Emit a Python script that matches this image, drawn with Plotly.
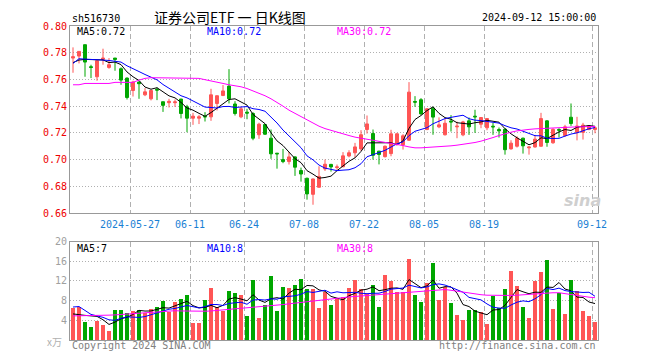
import math
import pandas as pd
import plotly.graph_objects as go

# ---------------- data ----------------
dates = [d.strftime("%Y-%m-%d") for d in pd.bdate_range("2024-05-13", "2024-09-12")
         if d.strftime("%Y-%m-%d") != "2024-06-10"]

open_ = [0.776, 0.7775, 0.786, 0.7695, 0.762, 0.775, 0.769, 0.776, 0.768, 0.761,
         0.7517, 0.758, 0.7485, 0.7455, 0.7525, 0.7433, 0.7426, 0.7426, 0.7453, 0.7395,
         0.731, 0.731, 0.7325, 0.732, 0.742, 0.748, 0.755, 0.7416, 0.732, 0.7355,
         0.7345, 0.7186, 0.7262, 0.716, 0.7048, 0.700, 0.6985, 0.702, 0.6918, 0.686,
         0.674, 0.6793, 0.693, 0.6964, 0.694, 0.6946, 0.7027, 0.7051, 0.708, 0.7225,
         0.7195, 0.7063, 0.7022, 0.7045, 0.7115, 0.711, 0.7145, 0.7435, 0.7448, 0.7225,
         0.7385, 0.7245, 0.7186, 0.7288, 0.7245, 0.7185, 0.729, 0.7325, 0.7265, 0.7238,
         0.725, 0.7225, 0.7227, 0.708, 0.710, 0.716, 0.7088, 0.7094, 0.710, 0.729,
         0.7126, 0.7225, 0.718, 0.7317, 0.7202, 0.7204, 0.7225, 0.7225]
high = [0.784, 0.781, 0.786, 0.771, 0.774, 0.783, 0.776, 0.776, 0.769, 0.7615,
        0.759, 0.7585, 0.7535, 0.7525, 0.754, 0.7433, 0.7455, 0.745, 0.7455, 0.741,
        0.735, 0.7333, 0.7355, 0.753, 0.748, 0.7558, 0.7677, 0.7437, 0.7395, 0.738,
        0.7355, 0.7276, 0.7265, 0.7225, 0.7048, 0.708, 0.7057, 0.7025, 0.694, 0.6865,
        0.6858, 0.695, 0.700, 0.6968, 0.6963, 0.7056, 0.707, 0.7125, 0.722, 0.733,
        0.7225, 0.7066, 0.7105, 0.7223, 0.720, 0.719, 0.758, 0.7475, 0.746, 0.7385,
        0.7395, 0.7316, 0.731, 0.7333, 0.7284, 0.729, 0.7315, 0.7373, 0.7318, 0.731,
        0.7275, 0.724, 0.7235, 0.7145, 0.7175, 0.7165, 0.7099, 0.7185, 0.735, 0.7295,
        0.7235, 0.7235, 0.726, 0.742, 0.732, 0.7275, 0.7258, 0.725]
low = [0.765, 0.772, 0.762, 0.761, 0.759, 0.771, 0.768, 0.7665, 0.756, 0.745,
       0.7472, 0.7455, 0.7475, 0.7443, 0.7445, 0.7357, 0.739, 0.7394, 0.7308, 0.7205,
       0.726, 0.7266, 0.7285, 0.729, 0.7368, 0.7475, 0.742, 0.733, 0.731, 0.7302,
       0.7145, 0.7155, 0.7185, 0.7006, 0.6932, 0.6973, 0.6963, 0.6878, 0.6835, 0.670,
       0.6662, 0.679, 0.6915, 0.691, 0.6924, 0.6944, 0.7017, 0.7015, 0.7065, 0.7195,
       0.700, 0.6964, 0.7015, 0.7025, 0.7105, 0.7075, 0.714, 0.7395, 0.7335, 0.722,
       0.7186, 0.7235, 0.718, 0.721, 0.716, 0.7175, 0.7185, 0.720, 0.7235, 0.722,
       0.7185, 0.7165, 0.7037, 0.7075, 0.709, 0.7045, 0.7037, 0.709, 0.7095, 0.7096,
       0.7118, 0.7165, 0.717, 0.7252, 0.7144, 0.715, 0.722, 0.7197]
close = [0.777, 0.781, 0.773, 0.769, 0.774, 0.776, 0.771, 0.775, 0.7595, 0.7465,
         0.758, 0.7568, 0.7507, 0.7517, 0.752, 0.7406, 0.7436, 0.7432, 0.7345, 0.731,
         0.7325, 0.732, 0.732, 0.7485, 0.7478, 0.7514, 0.7455, 0.7345, 0.738, 0.7348,
         0.716, 0.7265, 0.719, 0.7043, 0.7043, 0.6985, 0.702, 0.6943, 0.6892, 0.6743,
         0.6855, 0.6874, 0.6965, 0.6945, 0.6945, 0.7028, 0.7051, 0.7095, 0.7186, 0.7267,
         0.7032, 0.7038, 0.710, 0.7193, 0.7193, 0.7178, 0.7505, 0.743, 0.7342, 0.738,
         0.7318, 0.726, 0.7272, 0.7282, 0.725, 0.7282, 0.7245, 0.732, 0.7315, 0.7307,
         0.7245, 0.7215, 0.7074, 0.7123, 0.716, 0.7103, 0.7094, 0.7153, 0.7307, 0.7128,
         0.7226, 0.722, 0.7245, 0.727, 0.7251, 0.7258, 0.7252, 0.7238]

ma5 = [0.7726, 0.7745, 0.775, 0.7748, 0.7748, 0.7746, 0.7726, 0.773, 0.7711, 0.7656,
       0.762, 0.7592, 0.7543, 0.7527, 0.7538, 0.7504, 0.7477, 0.7462, 0.7428, 0.7386,
       0.737, 0.7346, 0.7324, 0.7352, 0.7386, 0.7423, 0.745, 0.7455, 0.7434, 0.7408,
       0.7338, 0.730, 0.7269, 0.7201, 0.714, 0.7105, 0.7056, 0.7007, 0.6977, 0.6917,
       0.6891, 0.6861, 0.6866, 0.6876, 0.6917, 0.6951, 0.6987, 0.7013, 0.7061, 0.7125,
       0.7126, 0.7124, 0.7125, 0.7126, 0.7111, 0.714, 0.7234, 0.730, 0.733, 0.7367,
       0.7395, 0.7346, 0.7314, 0.7302, 0.7276, 0.7269, 0.7266, 0.7276, 0.7282, 0.7294,
       0.7286, 0.728, 0.7231, 0.7193, 0.7163, 0.7135, 0.7111, 0.7127, 0.7163, 0.7157,
       0.7182, 0.7207, 0.7225, 0.7218, 0.7242, 0.7249, 0.7255, 0.7249]
ma10 = [0.772, 0.7755, 0.7752, 0.7748, 0.7745, 0.7745, 0.7742, 0.7738, 0.773, 0.7702,
        0.7683, 0.7659, 0.7637, 0.7619, 0.7597, 0.7562, 0.7534, 0.7503, 0.7478, 0.7462,
        0.7437, 0.7412, 0.7393, 0.739, 0.7386, 0.7397, 0.7398, 0.739, 0.7393, 0.7397,
        0.7381, 0.7375, 0.7362, 0.7318, 0.7274, 0.7221, 0.7178, 0.7138, 0.7089, 0.7028,
        0.6998, 0.6959, 0.6936, 0.6927, 0.6917, 0.6921, 0.6924, 0.6939, 0.6969, 0.7021,
        0.7039, 0.7055, 0.7069, 0.7094, 0.7118, 0.7133, 0.7179, 0.7212, 0.7228, 0.7239,
        0.7268, 0.729, 0.7307, 0.7316, 0.7322, 0.7332, 0.7306, 0.7295, 0.7292, 0.7285,
        0.7278, 0.7273, 0.7254, 0.7238, 0.7229, 0.7211, 0.7196, 0.7179, 0.7178, 0.716,
        0.7158, 0.7159, 0.7176, 0.7191, 0.720, 0.7215, 0.7231, 0.724]
ma30 = [0.756, 0.756, 0.757, 0.757, 0.757, 0.757, 0.757, 0.7578, 0.7578, 0.7578,
        0.7578, 0.7595, 0.7608, 0.7613, 0.7613, 0.7613, 0.7613, 0.7613, 0.7613, 0.7613,
        0.7612, 0.7608, 0.7598, 0.759, 0.758, 0.757, 0.756, 0.7553, 0.7545, 0.7532,
        0.7515, 0.7495, 0.7478, 0.7455, 0.743, 0.740, 0.737, 0.7345, 0.732, 0.7295,
        0.7272, 0.725, 0.7232, 0.7218, 0.7205, 0.7192, 0.718, 0.7168, 0.716, 0.7152,
        0.7145, 0.714, 0.7132, 0.7125, 0.7115, 0.7105, 0.7095, 0.7088, 0.7088, 0.709,
        0.7093, 0.7096, 0.7099, 0.7103, 0.7108, 0.7114, 0.712, 0.7128, 0.7138, 0.715,
        0.7165, 0.718, 0.7195, 0.7205, 0.7215, 0.7222, 0.7226, 0.723, 0.7233, 0.7235,
        0.7237, 0.7239, 0.7241, 0.7243, 0.7245, 0.7246, 0.7247, 0.7248]

volume = [6.6, 6.8, 3.8, 2.8, 4.0, 3.2, 2.0, 6.2, 6.2, 5.5,
          6.0, 6.2, 5.5, 6.3, 6.8, 8.0, 5.8, 7.8, 8.5, 9.2,
          3.6, 3.6, 8.2, 10.6, 6.8, 6.0, 10.0, 9.6, 9.2, 5.0,
          12.2, 4.6, 7.2, 13.0, 6.0, 10.8, 10.6, 11.2, 12.4, 10.4,
          10.4, 6.5, 9.8, 7.2, 8.6, 8.8, 10.6, 12.2, 10.5, 9.5,
          11.2, 6.7, 13.2, 12.0, 9.8, 9.8, 16.6, 9.2, 7.8, 11.6,
          15.8, 8.2, 10.8, 7.6, 5.2, 4.2, 6.2, 6.1, 5.8, 3.4,
          9.0, 6.6, 10.4, 14.2, 11.0, 6.8, 4.6, 12.0, 14.0, 16.4,
          6.4, 9.6, 5.4, 12.2, 10.0, 6.0, 5.0, 3.8]
vma5 = [5.3, 5.1, 5.0, 4.9, 4.8, 4.12, 3.16, 3.64, 4.32, 4.62,
        5.18, 6.02, 5.88, 5.9, 6.16, 6.56, 6.48, 6.94, 7.38, 7.86,
        6.98, 6.54, 6.62, 7.04, 6.56, 7.04, 8.32, 8.6, 8.32, 7.96,
        9.2, 8.12, 7.64, 8.4, 8.6, 8.32, 9.52, 10.32, 10.2, 11.08,
        11.0, 10.18, 9.9, 8.86, 8.5, 8.18, 9.0, 9.48, 10.14, 10.32,
        10.8, 10.02, 10.22, 10.52, 10.58, 10.3, 12.28, 11.48, 10.64, 11.0,
        12.2, 10.52, 10.84, 10.8, 9.52, 7.2, 6.8, 5.86, 5.5, 5.14,
        6.1, 6.18, 7.04, 8.72, 10.24, 9.8, 9.4, 9.72, 9.68, 10.76,
        10.68, 11.68, 10.36, 10.0, 8.72, 8.64, 7.72, 7.4]
vma10 = [6.7, 6.8, 6.0, 5.2, 4.9, 4.6, 4.1, 4.0, 4.4, 4.71,
         4.65, 4.59, 4.76, 5.11, 5.39, 5.87, 6.25, 6.41, 6.64, 7.01,
         6.77, 6.51, 6.78, 7.21, 7.21, 7.01, 7.43, 7.61, 7.68, 7.26,
         8.12, 8.22, 8.12, 8.36, 8.28, 8.76, 8.82, 8.98, 9.3, 9.84,
         9.66, 9.85, 10.11, 9.53, 9.79, 9.59, 9.59, 9.69, 9.5, 9.41,
         9.49, 9.51, 9.85, 10.33, 10.45, 10.55, 11.15, 10.85, 10.58, 10.79,
         11.25, 11.4, 11.16, 10.72, 10.26, 9.7, 8.66, 8.35, 8.15, 7.33,
         6.65, 6.49, 6.45, 7.11, 7.69, 7.95, 7.79, 8.38, 9.2, 10.5,
         10.24, 10.54, 10.04, 9.84, 9.74, 9.66, 9.7, 8.88]
vma30 = [4.9, 4.9, 4.95, 5.0, 5.0, 5.0, 5.05, 5.1, 5.2, 5.3,
         5.4, 5.5, 5.6, 5.7, 5.8, 5.9, 5.95, 5.95, 5.9, 5.85,
         5.8, 5.8, 5.85, 5.9, 6.0, 6.1, 6.3, 6.4, 6.5, 6.6,
         6.7, 6.8, 6.9, 7.0, 7.1, 7.2, 7.35, 7.5, 7.7, 7.85,
         8.0, 8.15, 8.3, 8.45, 8.55, 8.65, 8.75, 8.85, 8.95, 9.05,
         9.15, 9.25, 9.35, 9.45, 9.55, 9.65, 9.75, 9.85, 9.9, 10.0,
         10.1, 10.2, 10.25, 10.1, 9.9, 9.7, 9.5, 9.35, 9.2, 9.1,
         9.05, 9.0, 9.0, 9.05, 9.1, 9.2, 9.3, 9.35, 9.4, 9.5,
         9.6, 9.6, 9.4, 9.2, 9.0, 8.85, 8.7, 8.6]

tick_dates = ["2024-05-27", "2024-06-11", "2024-06-24", "2024-07-08",
              "2024-07-22", "2024-08-05", "2024-08-19", "2024-09-12"]
price_ticks = [0.66, 0.68, 0.70, 0.72, 0.74, 0.76, 0.78, 0.80]
vol_ticks = [4, 8, 12, 16, 20]

symbol = "sh516730"
title = "证券公司ETF 一 日K线图"

# ---------------- style ----------------
RED = "#ff5555"
GREEN = "#00a600"
MONO = "DejaVu Sans Mono"
GRID = "#b0b0b0"
FRAME = "#999999"

xs = list(range(len(dates)))
tick_pos = [dates.index(d) - 0.5 for d in tick_dates]
tick_txt = [d if i == 0 else d[5:] for i, d in enumerate(tick_dates)]
vol_colors = [RED if c >= o else GREEN for o, c in zip(open_, close)]

# page pixel geometry (the page body has an 8px margin, so the figure is offset)
OFF = 8
PAGE_W, PAGE_H = 660, 360
PL, PR, PT, PB = 70, 598, 21, 340   # plot area in page pixels
MAIN_BOTTOM, VOL_TOP = 211, 240


def pxx(x):
    return (x - PL) / (PR - PL)


def pxy(y):
    return (PB - y) / (PB - PT)


def floor_fmt(v, nd):
    f = 10 ** nd
    val = math.floor(v * f + 1e-9) / f
    return f"{val:.{nd}f}"


fig = go.Figure()
fig.add_trace(go.Candlestick(
    x=xs, open=open_, high=high, low=low, close=close,
    increasing=dict(line=dict(color=RED, width=1), fillcolor=RED),
    decreasing=dict(line=dict(color=GREEN, width=1), fillcolor=GREEN),
    whiskerwidth=0, xaxis="x", yaxis="y", hoverinfo="skip"))
for arr, col in [(ma5, "black"), (ma10, "#0000ff"), (ma30, "#ff00ff")]:
    fig.add_trace(go.Scatter(x=xs, y=arr, mode="lines", line=dict(color=col, width=1),
                             xaxis="x", yaxis="y", hoverinfo="skip"))

fig.add_trace(go.Bar(x=xs, y=volume, marker=dict(color=vol_colors, line=dict(width=0)),
                     width=0.82, xaxis="x2", yaxis="y2", hoverinfo="skip"))
for arr, col in [(vma5, "black"), (vma10, "#0000ff"), (vma30, "#ff00ff")]:
    fig.add_trace(go.Scatter(x=xs, y=arr, mode="lines", line=dict(color=col, width=1),
                             xaxis="x2", yaxis="y2", hoverinfo="skip"))

xcommon = dict(range=[-0.5, len(dates) - 0.5], tickvals=tick_pos, showgrid=True,
               gridcolor=GRID, griddash="5px,3px", gridwidth=1, showline=True,
               mirror=True, linecolor=FRAME, linewidth=1, zeroline=False,
               ticks="", fixedrange=True)

fig.update_layout(
    width=PAGE_W - OFF, height=PAGE_H - OFF,
    margin=dict(l=PL - OFF, r=PAGE_W - PR, t=PT - OFF, b=PAGE_H - PB, pad=0),
    paper_bgcolor="white", plot_bgcolor="white", showlegend=False,
    bargap=0,
    xaxis=dict(**xcommon, ticktext=tick_txt, anchor="y", ticklabelstandoff=2,
               tickfont=dict(family=MONO, size=10, color="#1a7fd4"),
               rangeslider=dict(visible=False)),
    yaxis=dict(domain=[pxy(MAIN_BOTTOM), 1], range=[0.66, 0.80],
               tickvals=price_ticks, ticktext=[f"{v:.2f}" for v in price_ticks],
               tickfont=dict(family=MONO, size=10, color="#ee0000"),
               showgrid=True, gridcolor=GRID, griddash="1px,2px", gridwidth=1,
               showline=True, mirror=True, linecolor=FRAME, linewidth=1,
               zeroline=False, ticks="", fixedrange=True, anchor="x"),
    xaxis2=dict(**xcommon, showticklabels=False, anchor="y2"),
    yaxis2=dict(domain=[0, pxy(VOL_TOP)], range=[0, 20], tickvals=vol_ticks,
                ticktext=[str(v) for v in vol_ticks],
                tickfont=dict(family=MONO, size=10, color="#a0a0a0"),
                showgrid=True, gridcolor=GRID, griddash="1px,2px", gridwidth=1,
                showline=True, mirror=True, linecolor=FRAME, linewidth=1,
                zeroline=False, ticks="", fixedrange=True, anchor="x2"),
)

ann = []


def text(x, y, s, color="black", size=10, family=MONO, anchor="left", **kw):
    ann.append(dict(x=pxx(x), y=pxy(y), xref="paper", yref="paper", text=s,
                    showarrow=False, xanchor=anchor, yanchor="middle",
                    font=dict(family=family, size=size, color=color), **kw))


text(70, 13, symbol)
text(152, 12, title, size=14, family="Noto Sans CJK SC")
text(598, 12, dates[-1] + " 15:00:00", anchor="right")
text(75, 27, "MA5:" + floor_fmt(ma5[-1], 2))
text(205, 27, "MA10:" + floor_fmt(ma10[-1], 2), color="#0000ff")
text(335, 27, "MA30:" + floor_fmt(ma30[-1], 2), color="#ff00ff")
text(75, 247, "MA5:" + floor_fmt(vma5[-1], 0))
text(205, 247, "MA10:" + floor_fmt(vma10[-1], 0), color="#0000ff")
text(335, 247, "MA30:" + floor_fmt(vma30[-1], 0), color="#ff00ff")
text(64, 342, "x万", color="#b0b0b0", anchor="right", family="Noto Sans CJK SC")
text(70, 346, "Copyright 2024 SINA.COM", color="#808080")
text(598, 346, "http://finance.sina.com.cn", color="#808080", anchor="right")
text(582, 198, "<b><i>sina</i></b>", color="#cfcfcf", size=16, family="DejaVu Sans",
     anchor="center")
fig.update_layout(annotations=ann)

fig.write_html("out.html")
